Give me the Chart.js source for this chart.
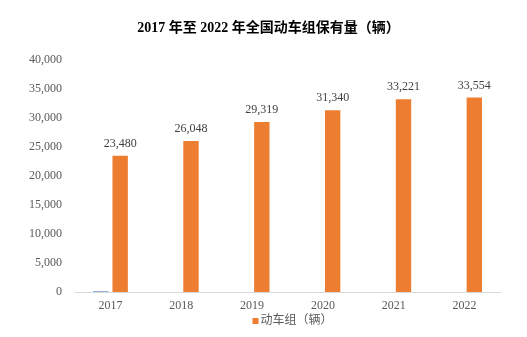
<!DOCTYPE html>
<html>
<head>
<meta charset="utf-8">
<script src="https://cdn.jsdelivr.net/npm/chart.js@4"></script>
<style>
  html, body { margin: 0; padding: 0; background: #fff; }
  #wrap { width: 527px; height: 337px; }
</style>
</head>
<body>
<div id="wrap"><canvas id="emuChart" width="527" height="337"></canvas></div>
<script>
const years = ['2017', '2018', '2019', '2020', '2021', '2022'];
const emuCount = [23480, 26048, 29319, 31340, 33221, 33554];
// leftover helper series, only a sliver shows at 2017
const helperSeries = [100, 0, 0, 0, 0, 0];
const yTicks = [0, 5000, 10000, 15000, 20000, 25000, 30000, 35000, 40000];
const chartTitle = '2017 年至 2022 年全国动车组保有量（辆）';

const serif = "'Liberation Serif', 'Times New Roman', 'Noto Sans CJK SC', serif";

const valueLabels = {
    id: 'valueLabels',
    afterDatasetsDraw(chart) {
        const ctx = chart.ctx;
        const meta = chart.getDatasetMeta(1);
        ctx.save();
        ctx.font = '12px ' + serif;
        ctx.fillStyle = '#404040';
        ctx.textAlign = 'center';
        ctx.textBaseline = 'bottom';
        meta.data.forEach((bar, i) => {
            ctx.fillText(emuCount[i].toLocaleString('en-US'), bar.x, bar.y - 6);
        });
        ctx.restore();
    }
};

// title and a small legend for the orange series, drawn by hand
const headerFooter = {
    id: 'headerFooter',
    afterDraw(chart) {
        const ctx = chart.ctx;
        const area = chart.chartArea;
        ctx.save();
        ctx.font = 'bold 14px ' + serif;
        ctx.fillStyle = '#000';
        ctx.textAlign = 'center';
        ctx.textBaseline = 'middle';
        ctx.fillText(chartTitle, (area.left + area.right) / 2 - 19, 28);

        const ds = chart.data.datasets[1];
        ctx.font = '12px ' + serif;
        const textW = ctx.measureText(ds.label).width;
        const total = 6 + 2 + textW;
        const x0 = (area.left + area.right) / 2 + 5 - total / 2;
        const y = 321;
        ctx.fillStyle = ds.backgroundColor;
        ctx.fillRect(x0, y - 3, 6, 6);
        ctx.fillStyle = '#595959';
        ctx.textAlign = 'left';
        ctx.fillText(ds.label, x0 + 8, y);
        ctx.restore();
    }
};

new Chart(document.getElementById('emuChart'), {
    type: 'bar',
    data: {
        labels: years,
        datasets: [
            { label: '其他', data: helperSeries, backgroundColor: '#4472C4',
              categoryPercentage: 0.55, barPercentage: 0.79 },
            { label: '动车组（辆）', data: emuCount, backgroundColor: '#ED7D31',
              categoryPercentage: 0.55, barPercentage: 0.79 }
        ]
    },
    options: {
        responsive: false,
        animation: false,
        layout: { padding: { left: 0, right: 27, top: 60, bottom: 25 } },
        plugins: {
            legend: { display: false },
            tooltip: { enabled: false }
        },
        scales: {
            x: {
                afterFit: axis => { axis.height = 20; },
                grid: { display: false, drawTicks: false },
                border: { color: '#D9D9D9' },
                ticks: { color: '#595959', font: { family: serif, size: 12 }, padding: 7 }
            },
            y: {
                min: 0, max: 40000,
                afterBuildTicks: axis => { axis.ticks = yTicks.map(v => ({ value: v })); },
                afterFit: axis => { axis.width = 75; },
                grid: { display: false, drawTicks: false },
                border: { display: false },
                ticks: {
                    color: '#595959',
                    font: { family: serif, size: 12 },
                    padding: 13,
                    callback: v => v.toLocaleString('en-US')
                }
            }
        }
    },
    plugins: [valueLabels, headerFooter]
});
</script>
</body>
</html>
